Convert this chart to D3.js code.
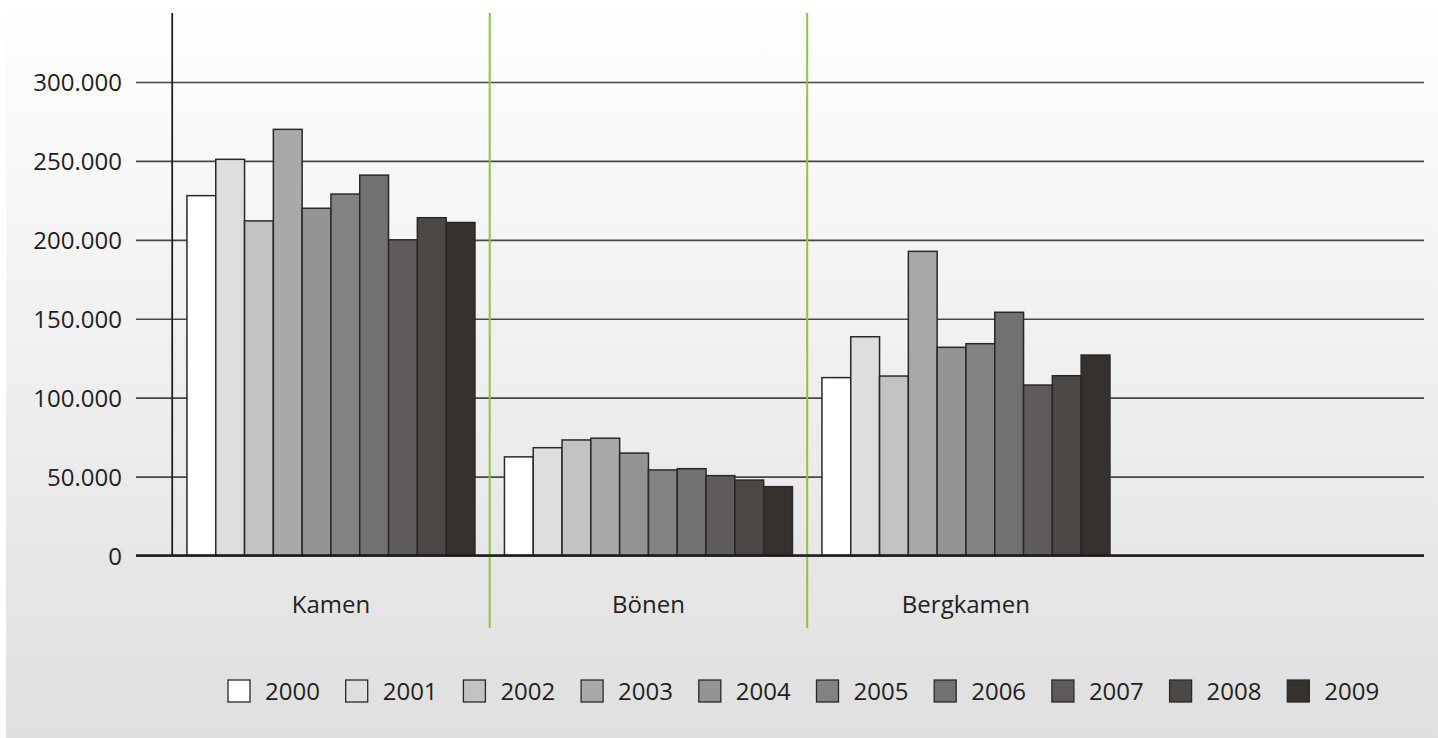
<!DOCTYPE html>
<html>
<head>
<meta charset="utf-8">
<script src="https://cdn.jsdelivr.net/npm/d3@7/dist/d3.min.js"></script>
<style>
  html, body { margin: 0; padding: 0; background: #ffffff; }
  svg { display: block; }
  text { font-family: "Open Sans", "DejaVu Sans", sans-serif; fill: #231f20; }
</style>
</head>
<body>
<svg id="chart" width="1438" height="738"></svg>
<script>
// Towns and years
const categories = ["Kamen", "Bönen", "Bergkamen"];
const years = ["2000", "2001", "2002", "2003", "2004", "2005", "2006", "2007", "2008", "2009"];

// Values per town, one entry per year
const kamen     = [228000, 251000, 212000, 270000, 220000, 229000, 241000, 200000, 214000, 211000];
const boenen    = [62500, 68300, 73200, 74300, 64900, 54200, 55000, 50600, 47800, 43600];
const bergkamen = [112700, 138600, 113700, 192700, 131900, 134200, 154100, 108000, 113900, 127000];
const seriesByCategory = [kamen, boenen, bergkamen];

// Y axis ticks
const yTicks = [0, 50000, 100000, 150000, 200000, 250000, 300000];

// Grey ramp, one shade per year
const yearColors = ["#ffffff", "#dededf", "#c2c2c2", "#aaa9a7", "#959394",
                    "#828282", "#72716f", "#5f5b5a", "#4c4845", "#37312e"];

const svg = d3.select("#chart");
const W = 1438, H = 738;

// Background panel with a soft vertical gradient
const defs = svg.append("defs");
const grad = defs.append("linearGradient")
  .attr("id", "bg").attr("x1", 0).attr("y1", 0).attr("x2", 0).attr("y2", 1);
grad.append("stop").attr("offset", "0%").attr("stop-color", "#ffffff");
grad.append("stop").attr("offset", "100%").attr("stop-color", "#dfdfdf");
svg.append("rect").attr("x", 6).attr("y", 0).attr("width", W - 6).attr("height", H)
  .attr("fill", "url(#bg)");

// Scales
const plotLeft = 172.2, plotTop = 13, gridLeft = 136, gridRight = 1424;
const step = 317.5;
const x0 = d3.scaleBand()
  .domain(categories)
  .range([plotLeft, plotLeft + step * categories.length])
  .paddingInner(0.0929)
  .paddingOuter(0.0929 / 2);
const x1 = d3.scaleBand().domain(years).range([0, x0.bandwidth()]).padding(0);
const y = d3.scaleLinear().domain([0, 300000]).range([555.5, 82]);
const color = d3.scaleOrdinal().domain(years).range(yearColors);

const de = d3.formatLocale({ decimal: ",", thousands: ".", grouping: [3], currency: ["", " €"] });
const fmt = de.format(",");

// Horizontal grid lines with the tick labels
const yAxis = d3.axisLeft(y)
  .tickValues(yTicks)
  .tickFormat(fmt)
  .tickSize(gridRight - gridLeft)
  .tickPadding(14);
const gAxis = svg.append("g")
  .attr("transform", `translate(${gridRight},0)`)
  .call(yAxis);
gAxis.select(".domain").remove();
gAxis.selectAll(".tick line")
  .attr("stroke", "#4a4646")
  .attr("stroke-width", 1.6);
gAxis.selectAll(".tick text")
  .attr("font-size", 24)
  .attr("dy", "0.36em")
  .attr("fill", "#231f20");

// Vertical axis line
svg.append("line")
  .attr("x1", plotLeft).attr("x2", plotLeft)
  .attr("y1", plotTop).attr("y2", y(0))
  .attr("stroke", "#231f20").attr("stroke-width", 1.8);

// Green separators between towns
const separators = categories.slice(1).map(c => x0(c) - x0.step() * x0.paddingInner() / 2);
svg.append("g").selectAll("line")
  .data(separators)
  .join("line")
  .attr("x1", d => d).attr("x2", d => d)
  .attr("y1", plotTop).attr("y2", 628)
  .attr("stroke", "#8cc63e").attr("stroke-width", 2);

// Bars
const groups = svg.append("g").selectAll("g")
  .data(categories)
  .join("g")
  .attr("transform", c => `translate(${x0(c)},0)`);

groups.selectAll("rect")
  .data((c, i) => years.map((yr, j) => ({ year: yr, value: seriesByCategory[i][j] })))
  .join("rect")
  .attr("x", d => x1(d.year))
  .attr("y", d => y(d.value))
  .attr("width", x1.bandwidth())
  .attr("height", d => y(0) - y(d.value))
  .attr("fill", d => color(d.year))
  .attr("stroke", "#2b2727")
  .attr("stroke-width", 1.5);

// Baseline
svg.append("line")
  .attr("x1", gridLeft).attr("x2", gridRight)
  .attr("y1", y(0)).attr("y2", y(0))
  .attr("stroke", "#1e1b1b").attr("stroke-width", 2.6);

// Town labels
svg.append("g").selectAll("text")
  .data(categories)
  .join("text")
  .attr("x", c => x0(c) + x0.bandwidth() / 2)
  .attr("y", 612.5)
  .attr("text-anchor", "middle")
  .attr("font-size", 24)
  .text(c => c);

// Legend
const legendX = 228, legendStep = 117.7, legendY = 680;
const legend = svg.append("g").selectAll("g")
  .data(years)
  .join("g")
  .attr("transform", (d, i) => `translate(${legendX + i * legendStep},${legendY})`);
legend.append("rect")
  .attr("width", 22).attr("height", 22)
  .attr("fill", d => color(d))
  .attr("stroke", "#2b2727").attr("stroke-width", 1.3);
legend.append("text")
  .attr("x", 37).attr("y", 19.5)
  .attr("font-size", 24)
  .text(d => d);
</script>
</body>
</html>
